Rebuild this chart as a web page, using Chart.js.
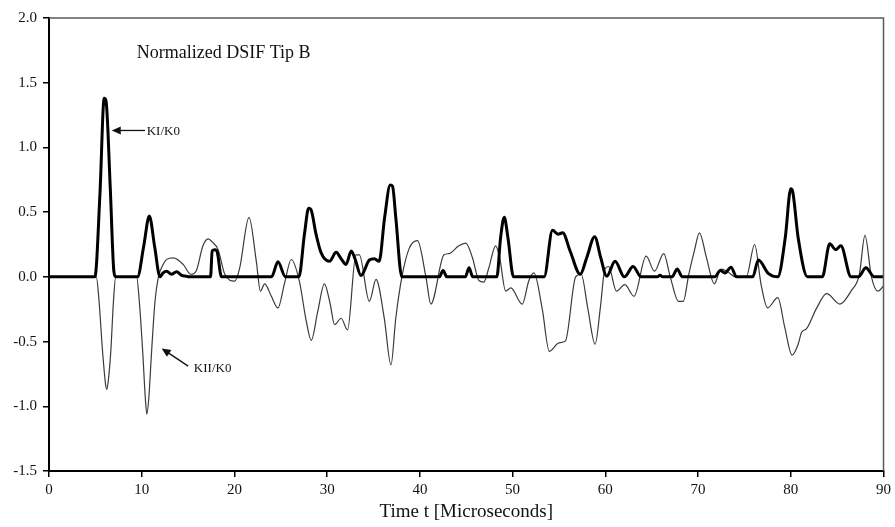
<!DOCTYPE html>
<html><head><meta charset="utf-8">
<script src="https://cdn.jsdelivr.net/npm/chart.js@4"></script>
<style>html,body{margin:0;padding:0;background:#fff;}#wrap{width:895px;height:527px;position:relative;}</style>
</head><body><div id="wrap"><canvas id="c"></canvas></div>
<script>
// ---- data ----
const seriesNames = ['KI/K0', 'KII/K0'];
const chartTitle = 'Normalized DSIF Tip B';
const xTitle = 'Time t [Microseconds]';
const xTicks = [0, 10, 20, 30, 40, 50, 60, 70, 80, 90];
const yTicks = [-1.5, -1.0, -0.5, 0.0, 0.5, 1.0, 1.5, 2.0];

const tI = [0, 4.95, 5.5, 5.95, 6.15, 6.6, 7.0, 7.2,
  9.55, 10.2, 10.82, 11.4, 11.97, 12.3, 12.69, 13.2, 13.76, 14.3, 14.84, 15.1,
  17.42, 17.6, 17.9, 18.15, 18.6,
  24.0, 24.69, 25.5,
  26.95, 27.55, 28.0, 28.25, 28.8, 29.35, 30.25, 30.97, 31.5, 32.04, 32.6, 33.0, 33.65, 34.55, 35.1, 35.6, 36.2, 36.8, 37.05, 37.4, 38.05,
  42.1, 42.5, 42.9, 44.9, 45.3, 45.7,
  48.3, 48.7, 49.1, 49.5, 50.1,
  53.4, 54.3, 54.9, 55.4, 56.2, 57.3, 58.0, 58.85, 59.5, 60.15, 61.05, 62.05, 63.0, 63.85,
  65.6, 65.9, 66.2,
  67.2, 67.75, 68.3,
  71.8, 72.4, 72.9, 73.55, 74.15,
  75.9, 76.5, 77.6, 78.6, 79.4, 80.0, 80.2, 80.8, 81.8,
  83.4, 84.2, 84.85, 85.4, 86.5,
  87.3, 88.1, 89.0, 90];
const kI = [0, 0, 0.65, 1.38, 1.36, 0.7, 0.04, 0,
  0, 0.23, 0.47, 0.23, 0, 0.03, 0.044, 0.02, 0.04, 0.012, 0.005, 0,
  0, 0.2, 0.21, 0.19, 0,
  0, 0.116, 0,
  0, 0.33, 0.53, 0.52, 0.33, 0.185, 0.12, 0.19, 0.14, 0.096, 0.2, 0.14, 0.01, 0.13, 0.14, 0.12, 0.46, 0.71, 0.70, 0.46, 0,
  0, 0.05, 0, 0, 0.07, 0,
  0, 0.3, 0.46, 0.3, 0,
  0, 0.36, 0.33, 0.34, 0.2, 0.02, 0.15, 0.31, 0.15, 0.005, 0.12, 0, 0.08, 0,
  0, 0.012, 0,
  0, 0.06, 0,
  0, 0.05, 0.03, 0.075, 0,
  0, 0.13, 0.025, 0, 0.3, 0.68, 0.66, 0.3, 0,
  0, 0.255, 0.21, 0.24, 0,
  0, 0.07, 0, 0];

const tII = [0, 5.1, 5.4, 5.77, 6.1, 6.23, 6.4, 6.67, 6.95, 7.2,
  9.45, 9.74, 10.1, 10.4, 10.55, 10.75, 11.07, 11.43, 11.8,
  12.2, 12.7, 13.4, 14.47, 15.3, 15.9, 16.6, 17.17, 17.6, 18.24, 18.96, 20.03, 20.57, 21.57, 22.36, 22.8, 23.26, 23.98, 24.69, 25.4, 26.13,
  27.0, 27.74, 28.28, 28.99, 29.7, 30.3, 30.8, 31.5, 32.2, 33.1, 33.47, 34.55, 35.27, 36.16, 36.88, 37.4, 38.06, 38.85, 39.74, 40.65, 41.18,
  42.6, 43.15, 44.2, 44.95, 45.66, 46.38, 46.9, 47.44, 48.17, 48.6, 49.25, 49.8, 51.04, 51.75, 52.3, 53.2, 53.95, 55.0, 55.7, 56.8, 57.4,
  58.1, 58.9, 59.46, 59.95, 60.35, 61.2, 62.1, 63.1, 64.4, 65.3, 66.3, 67.0, 67.9, 68.4, 69.0, 69.6, 70.15, 70.9, 71.75, 72.47, 73.2, 74.0,
  75.2, 76.1, 76.8, 77.5, 78.6, 79.35, 80.14, 80.8, 81.16, 81.7, 82.8, 83.87, 85.3, 86.5, 87.4, 88.0, 88.7, 89.4, 90];
const kII = [0, 0, -0.19, -0.57, -0.83, -0.87, -0.8, -0.57, -0.19, 0,
  0, -0.19, -0.57, -0.95, -1.06, -0.95, -0.57, -0.19, 0,
  0.08, 0.135, 0.147, 0.096, 0.02, 0.05, 0.24, 0.294, 0.27, 0.21, 0.02, -0.033, 0.07, 0.46, 0.12, -0.11, -0.054, -0.15, -0.24, -0.05, 0.134,
  -0.033, -0.34, -0.49, -0.265, -0.054, -0.2, -0.37, -0.32, -0.41, 0.17, 0.17, -0.19, -0.02, -0.32, -0.68, -0.32, 0, 0.22, 0.28, 0, -0.21,
  0.17, 0.18, 0.24, 0.26, 0.15, -0.03, -0.04, 0.07, 0.24, 0.15, -0.11, -0.085, -0.21, -0.03, 0.03, -0.25, -0.575, -0.51, -0.495, 0.0, 0.02,
  -0.24, -0.52, -0.24, 0.06, 0.08, -0.11, -0.06, -0.15, 0.16, 0.044, 0.18, 0.0, -0.19, -0.19, 0.02, 0.2, 0.34, 0.15, -0.054, 0.06, 0.04, 0,
  0, 0.25, -0.06, -0.24, -0.16, -0.39, -0.605, -0.52, -0.43, -0.40, -0.24, -0.13, -0.21, -0.11, 0.02, 0.32, 0.0, -0.11, -0.07];

// ---- annotation placement (data units) ----
const titleAt = [9.46, 1.69];
const arrowKI = { tail: [10.35, 1.131], head: [6.77, 1.131], label: [10.54, 1.131] };
const arrowKII = { tail: [15.01, -0.69], head: [12.15, -0.553], label: [15.62, -0.703] };

const SERIF = "'Liberation Serif', 'Times New Roman', serif";

const annotPlugin = {
  id: 'annot',
  afterDatasetsDraw(chart) {
    const { ctx, chartArea: ca, scales: { x, y } } = chart;
    const P = (p) => [x.getPixelForValue(p[0]), y.getPixelForValue(p[1])];
    ctx.save();
    // top & right frame
    ctx.strokeStyle = '#5a5a5a';
    ctx.lineWidth = 1.5;
    ctx.beginPath();
    ctx.moveTo(ca.left, ca.top);
    ctx.lineTo(ca.right, ca.top);
    ctx.lineTo(ca.right, ca.bottom);
    ctx.stroke();
    // title
    ctx.fillStyle = '#111';
    ctx.font = '18px ' + SERIF;
    ctx.textAlign = 'left';
    ctx.textBaseline = 'alphabetic';
    const tp = P(titleAt);
    ctx.fillText(chartTitle, tp[0], tp[1]);
    // arrows
    const drawArrow = (a, text) => {
      const [x1, y1] = P(a.tail), [x2, y2] = P(a.head);
      const ang = Math.atan2(y2 - y1, x2 - x1);
      const L = 9, W = 4;
      ctx.strokeStyle = '#111'; ctx.lineWidth = 1.3;
      ctx.beginPath();
      ctx.moveTo(x1, y1);
      ctx.lineTo(x2 - Math.cos(ang) * (L - 1), y2 - Math.sin(ang) * (L - 1));
      ctx.stroke();
      ctx.fillStyle = '#111';
      ctx.beginPath();
      ctx.moveTo(x2, y2);
      ctx.lineTo(x2 - L * Math.cos(ang) + W * Math.sin(ang), y2 - L * Math.sin(ang) - W * Math.cos(ang));
      ctx.lineTo(x2 - L * Math.cos(ang) - W * Math.sin(ang), y2 - L * Math.sin(ang) + W * Math.cos(ang));
      ctx.closePath();
      ctx.fill();
      ctx.font = '13px ' + SERIF;
      ctx.textBaseline = 'middle';
      const lp = P(a.label);
      ctx.fillText(text, lp[0], lp[1] + 1);
    };
    drawArrow(arrowKI, seriesNames[0]);
    drawArrow(arrowKII, seriesNames[1]);
    ctx.restore();
  }
};

const toXY = (ts, vs) => ts.map((t, i) => ({ x: t, y: vs[i] }));

new Chart(document.getElementById('c'), {
  type: 'line',
  data: {
    datasets: [
      { label: seriesNames[0], data: toXY(tI, kI), borderColor: '#000', borderWidth: 3,
        pointRadius: 0, cubicInterpolationMode: 'monotone', fill: false },
      { label: seriesNames[1], data: toXY(tII, kII), borderColor: '#3a3a3a', borderWidth: 1.2,
        pointRadius: 0, cubicInterpolationMode: 'monotone', fill: false }
    ]
  },
  options: {
    responsive: true,
    maintainAspectRatio: false,
    animation: false,
    events: [],
    layout: { padding: { top: 18, right: 9, left: 0, bottom: 0 } },
    plugins: { legend: { display: false }, tooltip: { enabled: false } },
    scales: {
      x: {
        type: 'linear', min: 0, max: 90,
        afterBuildTicks: s => { s.ticks = xTicks.map(v => ({ value: v })); },
        afterFit: s => { s.height = 56; },
        grid: { display: true, drawOnChartArea: false, drawTicks: true, tickLength: 6, color: '#000', lineWidth: 1.5 },
        border: { display: true, color: '#000', width: 2 },
        ticks: { color: '#111', font: { family: SERIF, size: 15 }, padding: 4, maxRotation: 0,
          callback: v => String(v) },
        title: { display: true, text: xTitle, color: '#111', font: { family: SERIF, size: 19 }, padding: { top: 0, bottom: 4 } }
      },
      y: {
        type: 'linear', min: -1.5, max: 2.0,
        afterBuildTicks: s => { s.ticks = yTicks.map(v => ({ value: v })); },
        afterFit: s => { s.width = 49; },
        grid: { display: true, drawOnChartArea: false, drawTicks: true, tickLength: 6, color: '#000', lineWidth: 1.5 },
        border: { display: true, color: '#000', width: 2 },
        ticks: { color: '#111', font: { family: SERIF, size: 15 }, padding: 6,
          callback: v => Number(v).toFixed(1) }
      }
    }
  },
  plugins: [annotPlugin]
});
</script>
</body></html>
